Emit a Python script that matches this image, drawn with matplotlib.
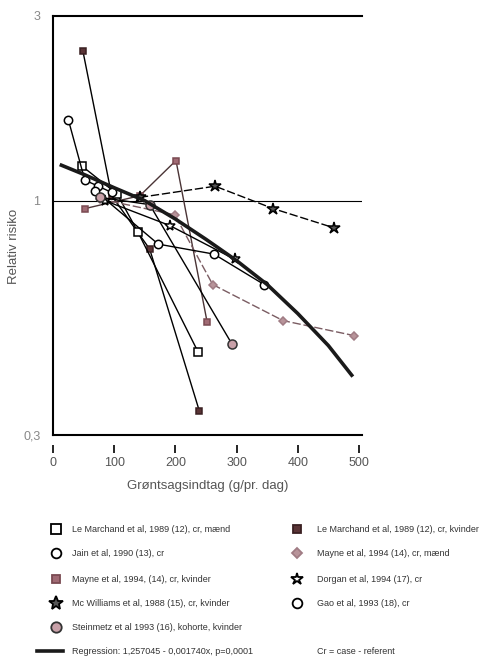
import numpy as np
import matplotlib.pyplot as plt
from matplotlib.lines import Line2D

plt.rcParams['font.family'] = ['Liberation Sans', 'DejaVu Sans']

# --- data (x = g vegetables per day, y = relative risk) ---
lm_maend_x = [47, 105, 139, 237]
lm_maend_y = [1.23, 1.04, 0.85, 0.46]
lm_kvind_x = [49, 96, 158, 239]
lm_kvind_y = [2.43, 1.03, 0.78, 0.34]
jain_x = [25, 52, 74, 96]
jain_y = [1.62, 1.13, 1.09, 1.05]
mayne_kv_x = [52, 142, 201, 252]
mayne_kv_y = [0.96, 1.03, 1.27, 0.535]
mayne_m_x = [77, 199, 261, 376, 492]
mayne_m_y = [1.01, 0.93, 0.65, 0.54, 0.50]
mcw_x = [142, 265, 360, 459]
mcw_y = [1.02, 1.09, 0.96, 0.87]
dorgan_x = [85, 191, 297]
dorgan_y = [1.0, 0.88, 0.74]
gao_x = [69, 172, 263, 345]
gao_y = [1.06, 0.80, 0.76, 0.65]
steinm_x = [77, 158, 292]
steinm_y = [1.02, 0.98, 0.48]
regr_x = [11, 50, 100, 150, 200, 250, 300, 350, 400, 450, 490]
regr_y = [1.24, 1.17, 1.08, 1.0, 0.91, 0.82, 0.735, 0.65, 0.56, 0.475, 0.405]

xticks = [0, 100, 200, 300, 400, 500]
yticks = [0.3, 1, 3]
ytick_labels = ['0,3', '1', '3']

legend_left = ['Le Marchand et al, 1989 (12), cr, mænd',
               'Jain et al, 1990 (13), cr',
               'Mayne et al, 1994, (14), cr, kvinder',
               'Mc Williams et al, 1988 (15), cr, kvinder',
               'Steinmetz et al 1993 (16), kohorte, kvinder']
legend_right = ['Le Marchand et al, 1989 (12), cr, kvinder',
                'Mayne et al, 1994 (14), cr, mænd',
                'Dorgan et al, 1994 (17), cr',
                'Gao et al, 1993 (18), cr']
regr_label = 'Regression: 1,257045 - 0,001740x, p=0,0001'
cr_note = 'Cr = case - referent'

# y axis in the original is log-like, but squeezed above RR = 1
UP = 387 / 448

def fwd(y):
    v = np.log10(np.clip(y, 1e-9, None))
    return np.where(v > 0, v * UP, v)

def inv(v):
    return np.where(v > 0, 10 ** (v / UP), 10 ** v)

fig = plt.figure(figsize=(4.83, 6.61), dpi=100)
ax = fig.add_axes([53 / 483, 1 - 435 / 661, 309 / 483, 419 / 661])
ax.set_yscale('function', functions=(fwd, inv))
ax.set_xlim(0, 505)
ax.set_ylim(0.3, 3)

# series: (x, y, marker, face, edge, size, line colour, line style)
series = [
    (lm_kvind_x, lm_kvind_y, 's', '#5a3436', '#3a2022', 4.5, 'black', '-'),
    (lm_maend_x, lm_maend_y, 's', 'white', 'black', 5.5, 'black', '-'),
    (jain_x, jain_y, 'o', 'white', 'black', 6, 'black', '-'),
    (mayne_kv_x, mayne_kv_y, 's', '#a06a74', '#7a4a52', 4.5, '#4a3436', '-'),
    (mayne_m_x, mayne_m_y, 'D', '#b8949a', '#a07c84', 4, '#7a5c62', (0, (6, 2))),
    (mcw_x, mcw_y, '*', '#555555', 'black', 9, 'black', (0, (6, 2))),
    (dorgan_x, dorgan_y, '*', 'white', 'black', 8, 'black', '-'),
    (gao_x, gao_y, 'o', 'white', 'black', 6, 'black', '-'),
    (steinm_x, steinm_y, 'o', '#c8a0a8', '#333333', 6.5, 'black', '-'),
]
for x, y, m, fc, ec, ms, lc, ls in series:
    ax.plot(x, y, color=lc, ls=ls, lw=1, marker=m, mfc=fc, mec=ec, ms=ms,
            mew=1.1, zorder=3)

ax.plot(regr_x, regr_y, color='#1a1a1a', lw=2.6, zorder=4,
        solid_capstyle='butt', solid_joinstyle='round')
ax.axhline(1, color='black', lw=0.8, zorder=1)

# frame: left + top spines, bottom line drawn separately so ticks hang below it
ax.spines['right'].set_visible(False)
ax.spines['left'].set_linewidth(1.5)
ax.spines['top'].set_linewidth(1.5)
ax.spines['bottom'].set_position(('outward', 7))
ax.spines['bottom'].set_visible(False)
ax.axhline(0.3, color='black', lw=1.5, clip_on=False, zorder=2)

ax.set_xticks(xticks)
ax.set_yticks(yticks)
ax.set_yticklabels(ytick_labels)
ax.yaxis.set_minor_locator(plt.NullLocator())
ax.tick_params(axis='x', direction='out', length=6, width=1.2, pad=3,
               labelsize=9, labelcolor='#555555')
ax.tick_params(axis='y', length=0, pad=9, labelsize=9, labelcolor='#888888')

ax.set_ylabel('Relativ risiko', fontsize=9.5, color='#555555')
ax.yaxis.set_label_coords(-0.107, 0.45)
ax.set_xlabel('Grøntsagsindtag (g/pr. dag)', fontsize=9.5, color='#555555',
              labelpad=8)

# --- legend below the plot, placed by pixel rows ---
def fx(px):
    return px / 483

def fy(py):
    return 1 - py / 661

rows = [529, 553, 579, 603, 627]
left_style = [series[1], series[2], series[3], series[5], series[8]]
right_style = [series[0], series[4], series[6], series[7]]
for lab, st, r in zip(legend_left, left_style, rows):
    fig.add_artist(Line2D([fx(56)], [fy(r)], marker=st[2], mfc=st[3], mec=st[4],
                          ms=st[5] + 1, mew=1.3, transform=fig.transFigure))
    fig.text(fx(72), fy(r), lab, fontsize=6.5, color='#333333', va='center')
for lab, st, r in zip(legend_right, right_style, rows):
    fig.add_artist(Line2D([fx(297)], [fy(r)], marker=st[2], mfc=st[3], mec=st[4],
                          ms=st[5] + 1, mew=1.3, transform=fig.transFigure))
    fig.text(fx(317), fy(r), lab, fontsize=6.5, color='#333333', va='center')

fig.add_artist(Line2D([fx(37), fx(63)], [fy(651), fy(651)], color='#1a1a1a',
                      lw=2.6, transform=fig.transFigure))
fig.text(fx(72), fy(651), regr_label, fontsize=6.5, color='#333333', va='center')
fig.text(fx(317), fy(651), cr_note, fontsize=6.5, color='#333333', va='center')

fig.savefig('out.png', dpi=100)
